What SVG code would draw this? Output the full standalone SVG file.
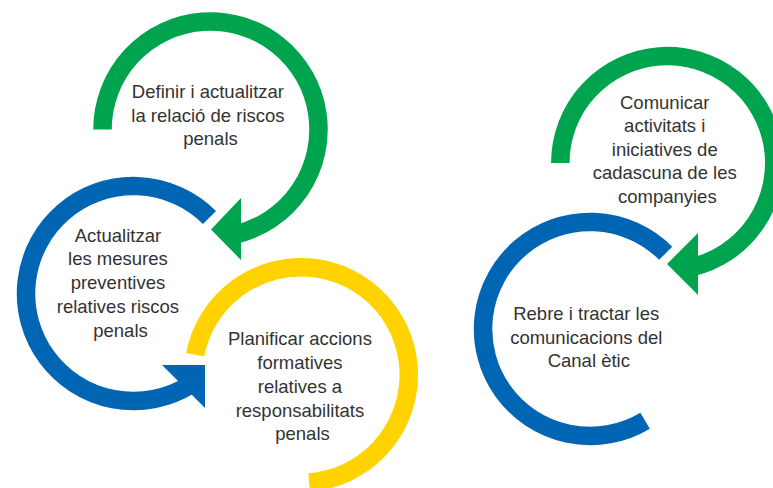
<svg xmlns="http://www.w3.org/2000/svg" width="773" height="488" viewBox="0 0 773 488">
  <style>
    .ring { fill: none; stroke-width: 18.5; stroke-linecap: butt; }
    .green { stroke: #00A34E; }
    .blue { stroke: #0066B3; }
    .yellow { stroke: #FFD200; }
    .head-green { fill: #00A34E; }
    .head-blue { fill: #0066B3; }
    .label { font-family: "Liberation Sans", Arial, sans-serif; font-size: 18.5px; fill: #333333; text-anchor: middle; }
  </style>
  <rect width="773" height="488" fill="#ffffff"/>

  <g id="node-definir">
    <path class="ring green" d="M102.5,129.5 A108,108 0 1 1 234.8,234.7"/>
    <text class="label">
      <tspan x="210.5" y="98">Definir i actualitzar</tspan>
      <tspan x="210.5" y="121.5">la relació de riscos</tspan>
      <tspan x="210.5" y="145">penals</tspan>
    </text>
  </g>

  <g id="node-actualitzar">
    <path class="ring blue" d="M209.5,217.5 A107.5,107.5 0 1 0 190.5,384.7"/>
    <text class="label">
      <tspan x="120.5" y="241.5">Actualitzar</tspan>
      <tspan x="120.5" y="265">les mesures</tspan>
      <tspan x="120.5" y="288.5">preventives</tspan>
      <tspan x="120.5" y="312.5">relatives riscos</tspan>
      <tspan x="120.5" y="336.5">penals</tspan>
    </text>
  </g>

  <g id="node-planificar">
    <path class="ring yellow" d="M195.2,354.8 A107.75,107.75 0 1 1 309.1,482.4"/>
    <text class="label">
      <tspan x="302.5" y="345">Planificar accions</tspan>
      <tspan x="302.5" y="369">formatives</tspan>
      <tspan x="302.5" y="392.5">relatives a</tspan>
      <tspan x="302.5" y="416.5">responsabilitats</tspan>
      <tspan x="302.5" y="440">penals</tspan>
    </text>
  </g>

  <g id="node-comunicar">
    <path class="ring green" d="M560.3,163 A107,107 0 1 1 691.4,267.3"/>
    <text class="label">
      <tspan x="667.3" y="108.5">Comunicar</tspan>
      <tspan x="667.3" y="132">activitats i</tspan>
      <tspan x="667.3" y="155.5">iniciatives de</tspan>
      <tspan x="667.3" y="179">cadascuna de les</tspan>
      <tspan x="667.3" y="202.5">companyies</tspan>
    </text>
  </g>

  <g id="node-rebre">
    <path class="ring blue" d="M665.7,253.3 A107,107 0 1 0 645.1,420.7"/>
    <text class="label">
      <tspan x="588.8" y="320">Rebre i tractar les</tspan>
      <tspan x="588.8" y="343.5">comunicacions del</tspan>
      <tspan x="588.8" y="367">Canal ètic</tspan>
    </text>
  </g>

  <g id="connectors">
    <polygon class="head-green" points="241,198 241,260 211,229.5"/>
    <polygon class="head-blue" points="162,365 205,365 205,408"/>
    <polygon class="head-green" points="698,233 698,295 667,264"/>
  </g>
</svg>
